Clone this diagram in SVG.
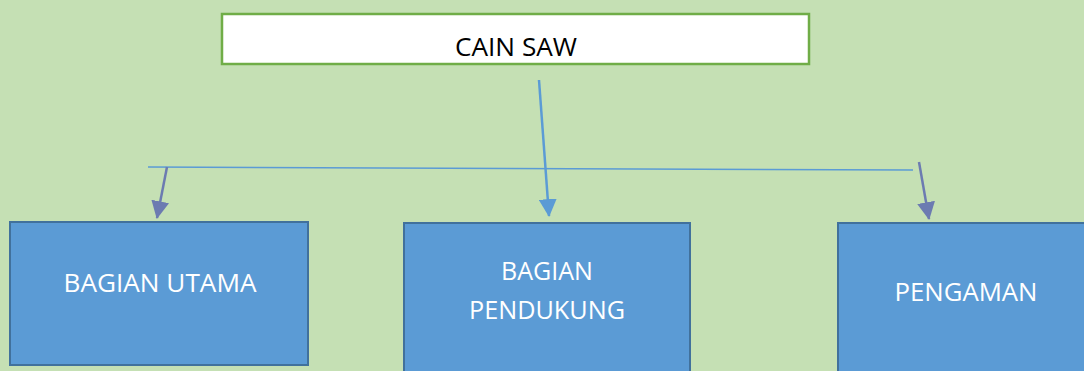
<svg xmlns="http://www.w3.org/2000/svg" width="1084" height="371" viewBox="0 0 1084 371">
<defs>
<style>
.bg{fill:#c5e0b4}
.title{fill:#ffffff;stroke:#70ad47;stroke-width:2.5}
.box{fill:#5b9bd5;stroke:#41719c;stroke-width:2}
.t{font-family:"Open Sans","Liberation Sans",Arial,sans-serif;font-size:25px;text-anchor:middle}
.tw{fill:#ffffff}
.tb{fill:#000000}
.conn{fill:none;stroke-width:2.5}
.slate{stroke:#6c7bb1}
.blue{stroke:#5b9bd5}
</style>
<marker id="ahS" markerUnits="userSpaceOnUse" markerWidth="18" markerHeight="18" viewBox="0 0 16 16" refX="15" refY="8" orient="auto">
<path d="M0,0 L16,8 L0,16 Z" fill="#6c7bb1"/>
</marker>
<marker id="ahB" markerUnits="userSpaceOnUse" markerWidth="18" markerHeight="18" viewBox="0 0 16 16" refX="15" refY="8" orient="auto">
<path d="M0,0 L16,8 L0,16 Z" fill="#5b9bd5"/>
</marker>
</defs>
<rect class="bg" x="0" y="0" width="1084" height="371"/>
<g id="connectors">
<line x1="148" y1="167" x2="913" y2="170" stroke="#5b9bd5" stroke-width="1.5"/>
<line class="conn slate" x1="167" y1="167" x2="157" y2="218" marker-end="url(#ahS)"/>
<line class="conn blue" x1="539" y1="80" x2="549" y2="216" marker-end="url(#ahB)"/>
<line class="conn slate" x1="919" y1="162" x2="929" y2="219" marker-end="url(#ahS)"/>
</g>
<g id="node-cain-saw">
<rect class="title" x="222" y="14" width="587" height="50"/>
<text class="t tb" x="516" y="56" textLength="122" lengthAdjust="spacingAndGlyphs">CAIN SAW</text>
</g>
<g id="node-bagian-utama">
<rect class="box" x="10" y="222" width="298" height="143"/>
<text class="t tw" x="160" y="292" textLength="193" lengthAdjust="spacingAndGlyphs">BAGIAN UTAMA</text>
</g>
<g id="node-bagian-pendukung">
<rect class="box" x="404" y="223" width="286" height="160"/>
<text class="t tw" x="547" y="280" textLength="92" lengthAdjust="spacingAndGlyphs">BAGIAN</text>
<text class="t tw" x="547" y="319" textLength="156" lengthAdjust="spacingAndGlyphs">PENDUKUNG</text>
</g>
<g id="node-pengaman">
<rect class="box" x="838" y="223" width="260" height="160"/>
<text class="t tw" x="966" y="301" textLength="143" lengthAdjust="spacingAndGlyphs">PENGAMAN</text>
</g>
</svg>
